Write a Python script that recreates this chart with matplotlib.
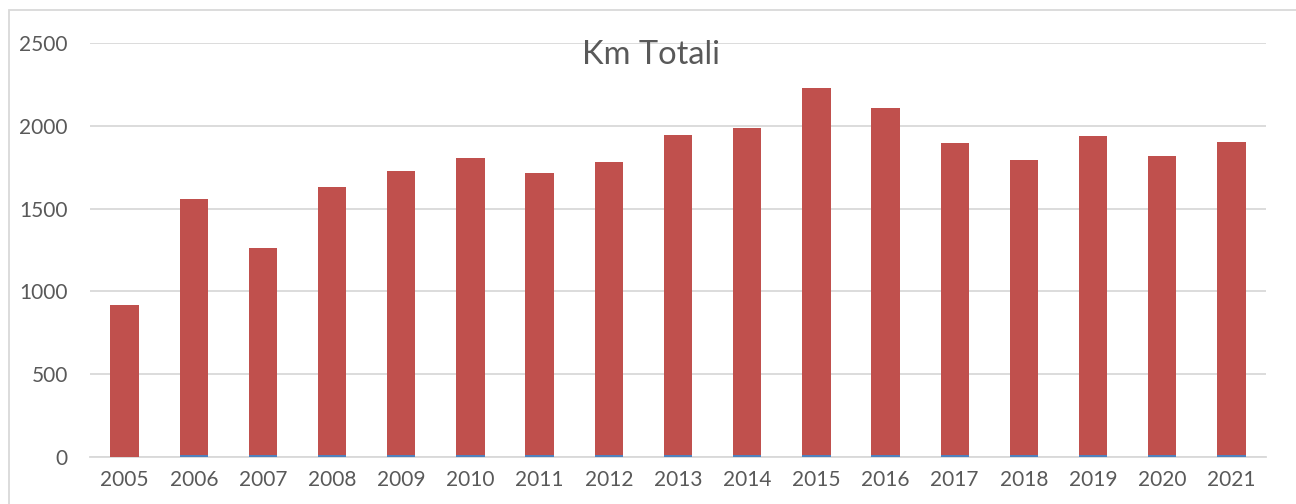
import matplotlib.pyplot as plt
from matplotlib.patches import Rectangle
import numpy as np

years = ["2005", "2006", "2007", "2008", "2009", "2010", "2011", "2012", "2013",
         "2014", "2015", "2016", "2017", "2018", "2019", "2020", "2021"]
km_minor = [3, 15, 10, 14, 14, 14, 13, 14, 14, 14, 15, 14, 14, 14, 14, 12, 14]
km_main = [915, 1545, 1252, 1616, 1716, 1791, 1699, 1766, 1931,
           1971, 2215, 2091, 1881, 1781, 1926, 1803, 1886]
y_ticks = [0, 500, 1000, 1500, 2000, 2500]

plt.rcParams['font.family'] = ['Lato', 'DejaVu Sans']
text_color = "#595959"

fig = plt.figure(figsize=(12.96, 5.04), dpi=100)
ax = fig.add_axes([90 / 1296, 1 - 457 / 504, (1266 - 90) / 1296, (457 - 43) / 504])

x = np.arange(len(years))
ax.bar(x, km_minor, width=0.41, color="#4f81bd", zorder=3)
ax.bar(x, km_main, width=0.41, bottom=km_minor, color="#c0504d", zorder=3)

ax.set_xlim(-0.5, len(years) - 0.5)
ax.set_ylim(0, 2500)
ax.set_yticks(y_ticks)
ax.set_xticks(x)
ax.set_xticklabels(years)
ax.yaxis.grid(True, color="#d9d9d9", linewidth=1.3, zorder=0)
ax.tick_params(axis="both", length=0, labelsize=15, colors=text_color)
ax.tick_params(axis="y", pad=16)
ax.tick_params(axis="x", pad=9)
for side in ["top", "right", "left"]:
    ax.spines[side].set_visible(False)
ax.spines["bottom"].set_color("#d9d9d9")
ax.spines["bottom"].set_linewidth(1.3)

fig.text(651 / 1296, 1 - 55 / 504, "Km Totali", ha="center", va="center",
         fontsize=23.5, color=text_color, zorder=4)

# chart area frame
fig.patches.append(Rectangle((9 / 1296, -0.05), 1.2, 1 - 10 / 504 + 0.05,
                             transform=fig.transFigure, fill=False,
                             edgecolor="#d9d9d9", linewidth=1.3))

fig.savefig("out.png", dpi=100)
